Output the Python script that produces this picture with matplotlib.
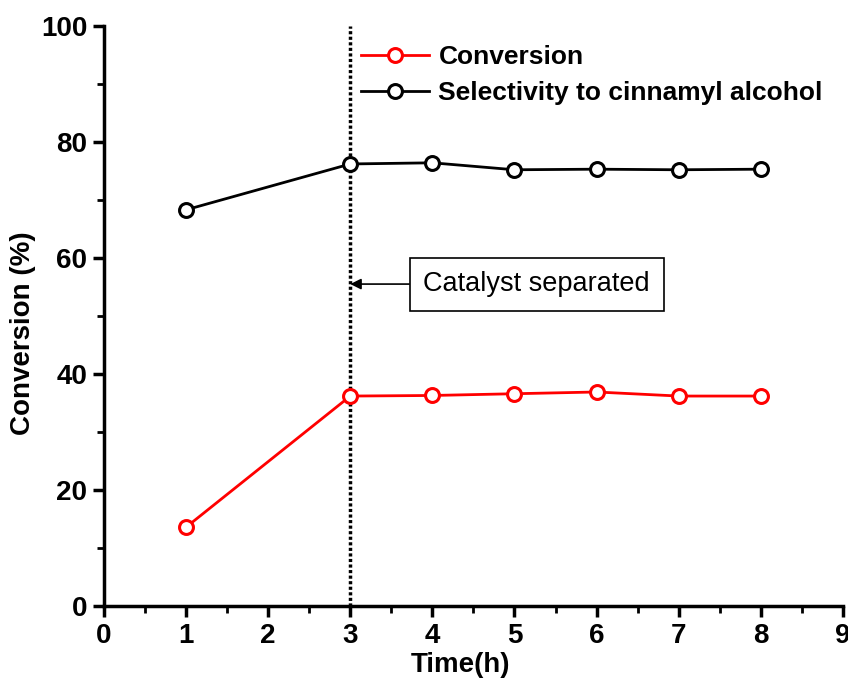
import numpy as np
import matplotlib.pyplot as plt
from matplotlib.ticker import MultipleLocator

plt.rcParams['font.family'] = ['Liberation Sans', 'DejaVu Sans']

# data
time_h = [1, 3, 4, 5, 6, 7, 8]
conversion = [13.6, 36.2, 36.3, 36.6, 36.9, 36.2, 36.2]
selectivity = [68.3, 76.2, 76.4, 75.2, 75.3, 75.2, 75.3]
separation_time = 3

fig = plt.figure(figsize=(8.48, 6.81), dpi=100)
ax = fig.add_axes([0.1226, 0.110, 0.8714, 0.852])

ax.plot(time_h, conversion, color="red", lw=2, marker="o", ms=10,
        mfc="white", mec="red", mew=2.2, label="Conversion")
ax.plot(time_h, selectivity, color="black", lw=2, marker="o", ms=10,
        mfc="white", mec="black", mew=2.2, label="Selectivity to cinnamyl alcohol")

ax.axvline(separation_time, color="black", lw=2.5, linestyle=(0, (0.9, 0.7)), zorder=1)

ax.annotate("Catalyst separated", xy=(separation_time, 55.5), xytext=(5.27, 55.5),
            fontsize=19.5, ha="center", va="center",
            bbox=dict(boxstyle="square,pad=0.5", fc="white", ec="black", lw=1.2),
            arrowprops=dict(arrowstyle="-|>", color="black", lw=1.2,
                            shrinkA=0, shrinkB=0, mutation_scale=16))

ax.set_xlim(0, 9)
ax.set_ylim(0, 100)
ax.xaxis.set_major_locator(MultipleLocator(1))
ax.xaxis.set_minor_locator(MultipleLocator(0.5))
ax.yaxis.set_major_locator(MultipleLocator(20))
ax.yaxis.set_minor_locator(MultipleLocator(10))

for side in ["top", "right"]:
    ax.spines[side].set_visible(False)
for side in ["left", "bottom"]:
    ax.spines[side].set_linewidth(2.5)

ax.tick_params(which="major", length=8, width=2.5, direction="out", labelsize=20, pad=4)
ax.tick_params(which="minor", length=5, width=2, direction="out")
for lab in ax.get_xticklabels() + ax.get_yticklabels():
    lab.set_fontweight("bold")

ax.set_xlabel("Time(h)", fontsize=20, fontweight="bold")
ax.set_ylabel("Conversion (%)", fontsize=20, fontweight="bold")
ax.xaxis.set_label_coords(0.482, -0.079)
ax.yaxis.set_label_coords(-0.092, 0.47)

ax.legend(loc="upper left", bbox_to_anchor=(0.333, 0.985), frameon=False,
          prop=dict(size=19, weight="bold"), handlelength=2.6, handletextpad=0.35,
          labelspacing=0.45, borderaxespad=0)

fig.savefig("out.png", dpi=100)
